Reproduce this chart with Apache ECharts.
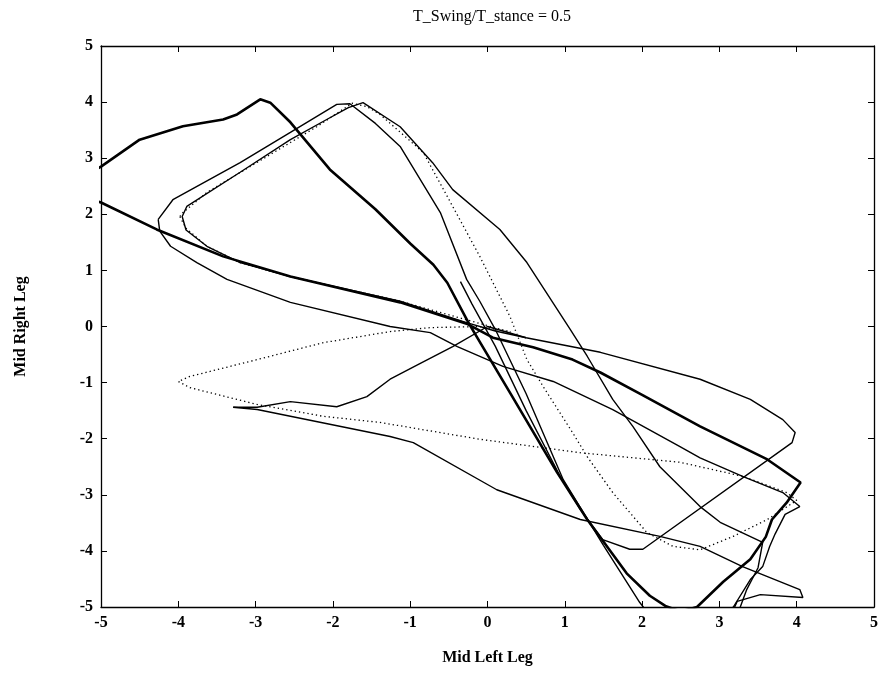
<!DOCTYPE html>
<html>
<head>
<meta charset="utf-8">
<script src="https://cdn.jsdelivr.net/npm/echarts@6/dist/echarts.min.js"></script>
<style>
  html, body { margin: 0; padding: 0; background: #fff; }
  #chart { width: 882px; height: 686px; }
</style>
</head>
<body>
<div id="chart"></div>
<script>
// axis ticks
const ticks = [-5, -4, -3, -2, -1, 0, 1, 2, 3, 4, 5];

// heavy limit cycle (drawn bold in the original)
const thickLoop = [
  [-5.3, 2.6], [-5, 2.85], [-4.5, 3.33], [-3.94, 3.57], [-3.42, 3.69], [-3.24, 3.78],
  [-2.94, 4.05], [-2.81, 3.99], [-2.55, 3.64], [-2.04, 2.8], [-1.45, 2.09], [-1.0, 1.48],
  [-0.7, 1.1], [-0.52, 0.78], [-0.24, 0.05], [0.3, -1.2], [0.9, -2.6], [1.29, -3.44],
  [1.8, -4.4], [2.1, -4.8], [2.3, -4.98], [2.5, -5.08], [2.71, -5.0], [3.05, -4.55],
  [3.4, -4.15], [3.6, -3.75], [3.68, -3.44], [3.87, -3.14], [4.05, -2.78], [3.62, -2.37],
  [2.75, -1.78], [2.0, -1.22], [1.46, -0.82], [1.1, -0.59], [0.59, -0.37], [0.07, -0.2],
  [-0.27, 0.05], [-1.13, 0.43], [-2.55, 0.89], [-3.42, 1.25], [-4.28, 1.73], [-5, 2.21],
  [-5.3, 2.35]
];

// thin loop with the sharp corner at (-4.26, 1.91)
const outerLoop = [
  [-4.26, 1.91], [-4.07, 2.26], [-3.2, 2.92], [-2.55, 3.46], [-1.95, 3.96], [-1.78, 3.97],
  [-1.45, 3.62], [-1.13, 3.21], [-0.61, 2.03], [-0.27, 0.84], [-0.1, 0.45], [0.1, -0.05],
  [0.5, -1.2], [0.98, -2.73], [1.5, -3.9], [1.97, -4.92], [2.3, -5.5], [2.9, -5.5],
  [3.18, -5.0], [3.4, -4.51], [3.56, -4.28], [3.65, -3.92], [3.72, -3.7], [3.85, -3.35],
  [4.04, -3.21], [3.82, -2.96], [3.3, -2.67], [2.75, -2.34], [2.49, -2.14], [1.62, -1.48],
  [0.85, -0.98], [0.2, -0.71], [-0.39, -0.36], [-0.74, -0.11], [-1.26, 0.0], [-2.55, 0.43],
  [-3.37, 0.84], [-3.76, 1.14], [-4.1, 1.43], [-4.24, 1.7], [-4.26, 1.91]
];

// thin loop with the rounded corner at (-3.95, 1.96)
const innerLoop = [
  [0.5, -0.2], [0.1, -0.08], [-0.27, 0.07], [-1.13, 0.45], [-2.55, 0.89], [-3.2, 1.14],
  [-3.63, 1.43], [-3.9, 1.72], [-3.95, 1.96], [-3.89, 2.14], [-3.2, 2.75], [-2.55, 3.33],
  [-2.08, 3.69], [-1.8, 3.9], [-1.61, 3.99], [-1.13, 3.56], [-0.71, 2.92], [-0.45, 2.44],
  [0.16, 1.73], [0.51, 1.14], [1.07, -0.05], [1.29, -0.53], [1.62, -1.3], [1.88, -1.78],
  [2.23, -2.5], [2.75, -3.21], [3.01, -3.49], [3.56, -3.85], [3.5, -4.3], [3.35, -4.7],
  [3.27, -5.0], [3.2, -5.3]
];

// start transient rising to the centre, then the upper right branch
const startPath = [
  [-3.29, -1.44], [-2.98, -1.44], [-2.55, -1.34], [-1.95, -1.43], [-1.56, -1.25],
  [-1.26, -0.94], [-0.9, -0.68], [-0.45, -0.36], [0.0, 0.0], [0.5, -0.2], [1.46, -0.46],
  [2.75, -0.94], [3.4, -1.3], [3.82, -1.66], [3.98, -1.89], [3.94, -2.07], [2.01, -3.97],
  [1.84, -3.97], [1.49, -3.8], [1.2, -3.26], [0.94, -2.67], [0.5, -1.5], [0.1, -0.35],
  [-0.2, 0.4], [-0.35, 0.8]
];

// lower transient ending in the fin near (4.08, -4.83)
const lowerPath = [
  [-3.29, -1.44], [-2.98, -1.48], [-1.26, -1.96], [-0.96, -2.07], [0.12, -2.91],
  [1.2, -3.44], [2.23, -3.74], [2.75, -3.92], [3.3, -4.28], [4.04, -4.69], [4.08, -4.83],
  [3.53, -4.78], [3.23, -4.9], [3.1, -5.3]
];

// dotted trajectory
const dottedLoop = [
  [-3.98, 1.96], [-3.94, 2.03], [-3.63, 2.39], [-2.55, 3.28], [-2.21, 3.56], [-1.75, 3.98],
  [-1.56, 3.92], [-1.39, 3.78], [-0.83, 3.1], [-0.45, 2.14], [-0.1, 1.25], [0.29, 0.18],
  [0.51, -0.59], [0.72, -1.07], [1.1, -1.89], [1.29, -2.32], [1.62, -2.96], [2.06, -3.67],
  [2.4, -3.92], [2.75, -3.98], [3.18, -3.74], [3.62, -3.44], [4.0, -3.1], [3.87, -2.96],
  [3.3, -2.67], [2.49, -2.42], [1.2, -2.25], [-0.1, -2.01], [-1.39, -1.71], [-2.13, -1.6],
  [-2.98, -1.39], [-3.85, -1.09], [-4.0, -0.98], [-3.85, -0.89], [-2.98, -0.59],
  [-2.13, -0.29], [-1.26, -0.09], [-0.74, -0.02], [-0.1, 0.0], [0.3, -0.1], [-1.13, 0.45],
  [-2.55, 0.89], [-3.2, 1.14], [-3.63, 1.43], [-3.9, 1.75], [-3.98, 1.96]
];

const serif = '"Liberation Serif", "DejaVu Serif", serif';

function makeAxis(pos, showLabels, extra) {
  return Object.assign({
    type: 'value',
    position: pos,
    min: -5,
    max: 5,
    interval: 1,
    axisLine: { show: true, onZero: false, lineStyle: { color: '#000', width: 1.3 } },
    axisTick: { show: true, inside: true, length: 6, lineStyle: { color: '#000', width: 1 } },
    axisLabel: {
      show: showLabels,
      color: '#000',
      fontFamily: serif,
      fontWeight: 'bold',
      fontSize: 16
    },
    splitLine: { show: false }
  }, extra || {});
}

function trace(data, width, dash) {
  return {
    type: 'line',
    data: data,
    showSymbol: false,
    symbol: 'none',
    clip: true,
    silent: true,
    animation: false,
    lineStyle: { color: '#000', width: width, type: dash || 'solid' }
  };
}

const chart = echarts.init(document.getElementById('chart'));
chart.setOption({
  backgroundColor: '#fff',
  animation: false,
  title: {
    text: 'T_Swing/T_stance = 0.5',
    left: 487,
    top: 4,
    textAlign: 'center',
    textStyle: { fontFamily: serif, fontWeight: 'normal', fontSize: 16, color: '#000' }
  },
  grid: { left: 101, right: 8, top: 46, bottom: 79 },
  xAxis: [
    makeAxis('bottom', true, {
      name: 'Mid Left Leg',
      nameLocation: 'middle',
      nameGap: 43,
      nameTextStyle: { fontFamily: serif, fontWeight: 'bold', fontSize: 16, color: '#000' },
      axisLabel: { show: true, color: '#000', fontFamily: serif, fontWeight: 'bold', fontSize: 16, margin: 8 }
    }),
    makeAxis('top', false)
  ],
  yAxis: [
    makeAxis('left', true, {
      name: 'Mid Right Leg',
      nameLocation: 'middle',
      nameGap: 72,
      nameTextStyle: { fontFamily: serif, fontWeight: 'bold', fontSize: 16, color: '#000' },
      axisLabel: { show: true, color: '#000', fontFamily: serif, fontWeight: 'bold', fontSize: 16, margin: 8 }
    }),
    makeAxis('right', false)
  ],
  series: [
    trace(thickLoop, 2.6),
    trace(outerLoop, 1.4),
    trace(innerLoop, 1.4),
    trace(startPath, 1.4),
    trace(lowerPath, 1.4),
    trace(dottedLoop, 1.3, [1.3, 3])
  ]
});
</script>
</body>
</html>
